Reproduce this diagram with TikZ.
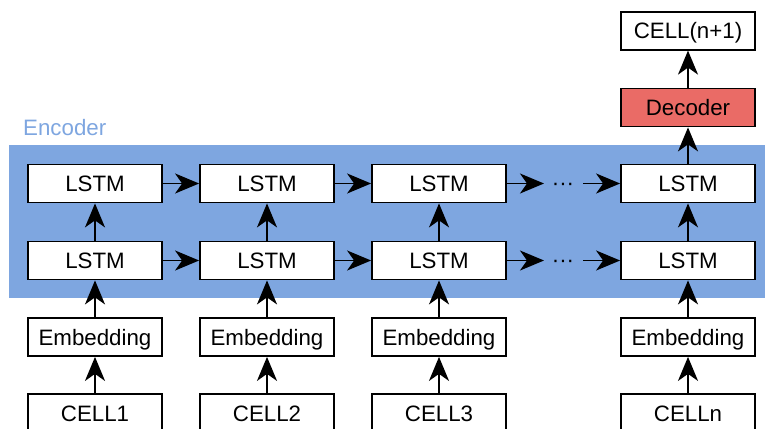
\documentclass[tikz,border=0pt]{standalone}
\usepackage{fontspec}
\setmainfont{Liberation Sans}
\usetikzlibrary{arrows.meta}
\definecolor{encblue}{HTML}{7EA6E0}
\definecolor{decred}{HTML}{EA6B66}
\begin{document}
\begin{tikzpicture}[x=1pt,y=-1pt,
  lbl/.style={font=\fontsize{22.3pt}{26pt}\selectfont,text height=16pt,text depth=0pt},
  box/.style={lbl,draw=black,line width=1.8pt,fill=white,minimum width=134pt,minimum height=38pt,inner sep=0pt},
  arr/.style={line width=1.8pt,-{Stealth[length=24pt,width=20pt,inset=7pt]}}]
\useasboundingbox (0,0) rectangle (765,428);
\clip (0,0) rectangle (765,428);
\fill[encblue] (9,145) rectangle (765,298);
\node[lbl,text=encblue,anchor=west,inner sep=0pt] (enc) at (23,127.5) {Encoder};
\foreach \i/\x in {1/95,2/267,3/439,4/688}{
  \node[box] (t\i) at (\x,183.5) {LSTM};
  \node[box] (b\i) at (\x,260.5) {LSTM};
  \node[box] (e\i) at (\x,337) {Embedding};
}
\node[box] (c1) at (95,413) {CELL1};
\node[box] (c2) at (267,413) {CELL2};
\node[box] (c3) at (439,413) {CELL3};
\node[box] (c4) at (688,413) {CELLn};
\node[box,fill=decred] (dec) at (688,107.5) {Decoder};
\node[box] (out) at (688,30.7) {CELL(n+1)};
\node[font=\fontsize{22.3pt}{26pt}\selectfont,inner sep=0pt] (dt) at (563,187) {\textperiodcentered\textperiodcentered\textperiodcentered};
\node[font=\fontsize{22.3pt}{26pt}\selectfont,inner sep=0pt] (db) at (563,264) {\textperiodcentered\textperiodcentered\textperiodcentered};
\coordinate (dtl) at (544,183.5);
\coordinate (dtr) at (583,183.5);
\coordinate (dbl) at (544,260.5);
\coordinate (dbr) at (583,260.5);
\foreach \i in {1,2,3,4}{
  \draw[arr] (c\i) -- (e\i);
  \draw[arr] (e\i) -- (b\i);
  \draw[arr] (b\i) -- (t\i);
}
\draw[arr] (t1) -- (t2);
\draw[arr] (t2) -- (t3);
\draw[arr] (b1) -- (b2);
\draw[arr] (b2) -- (b3);
\draw[arr] (t3.east) -- (dtl);
\draw[arr] (dtr) -- (t4.west);
\draw[arr] (b3.east) -- (dbl);
\draw[arr] (dbr) -- (b4.west);
\draw[arr] (t4) -- (dec);
\draw[arr] (dec) -- (out);
\end{tikzpicture}
\end{document}
